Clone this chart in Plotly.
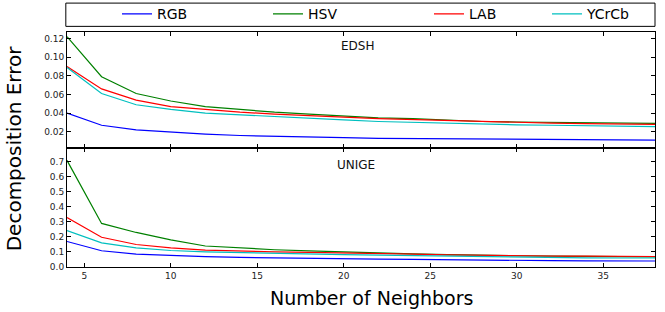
import plotly.graph_objects as go

neighbors = [4, 6, 8, 10, 12, 14, 16, 18, 20, 22, 24, 26, 28, 30, 32, 34, 36, 38]

edsh_rgb = [0.040, 0.027, 0.022, 0.0195, 0.0175, 0.016, 0.015, 0.0145, 0.0138, 0.013, 0.0127, 0.0123, 0.012, 0.0118, 0.0115, 0.0113, 0.011, 0.011]
edsh_hsv = [0.122, 0.079, 0.061, 0.053, 0.047, 0.044, 0.041, 0.039, 0.0366, 0.035, 0.034, 0.0325, 0.031, 0.0305, 0.030, 0.0298, 0.0294, 0.029]
edsh_lab = [0.090, 0.066, 0.054, 0.047, 0.044, 0.041, 0.039, 0.037, 0.0356, 0.034, 0.033, 0.032, 0.0305, 0.030, 0.0293, 0.0288, 0.0283, 0.028]
edsh_ycrcb = [0.089, 0.061, 0.049, 0.044, 0.040, 0.038, 0.036, 0.034, 0.0327, 0.031, 0.030, 0.029, 0.0283, 0.0275, 0.027, 0.0265, 0.026, 0.0255]

unige_rgb = [0.17, 0.108, 0.086, 0.075, 0.069, 0.064, 0.060, 0.057, 0.055, 0.053, 0.051, 0.048, 0.044, 0.043, 0.042, 0.041, 0.040, 0.040]
unige_hsv = [0.71, 0.29, 0.23, 0.181, 0.140, 0.125, 0.115, 0.107, 0.099, 0.092, 0.087, 0.082, 0.077, 0.075, 0.073, 0.071, 0.069, 0.068]
unige_lab = [0.33, 0.198, 0.150, 0.128, 0.113, 0.106, 0.101, 0.098, 0.095, 0.090, 0.086, 0.081, 0.077, 0.075, 0.073, 0.072, 0.071, 0.070]
unige_ycrcb = [0.242, 0.161, 0.128, 0.110, 0.101, 0.095, 0.090, 0.086, 0.082, 0.079, 0.076, 0.071, 0.066, 0.064, 0.062, 0.061, 0.060, 0.060]

series_names = ["RGB", "HSV", "LAB", "YCrCb"]
colors = ["#0000ff", "#008000", "#ff0000", "#00bfbf"]

x_ticks = [5, 10, 15, 20, 25, 30, 35]
top_ticks = [0.02, 0.04, 0.06, 0.08, 0.10, 0.12]
bot_ticks = [0.0, 0.1, 0.2, 0.3, 0.4, 0.5, 0.6, 0.7]

font = "DejaVu Sans, sans-serif"
legend_ids = ["legend", "legend2", "legend3", "legend4"]
legend_left_px = [117, 268, 429, 547]

fig = go.Figure()
edsh = [edsh_rgb, edsh_hsv, edsh_lab, edsh_ycrcb]
unige = [unige_rgb, unige_hsv, unige_lab, unige_ycrcb]
for name, col, ys, lg in zip(series_names, colors, edsh, legend_ids):
    fig.add_trace(go.Scatter(x=neighbors, y=ys, mode="lines", name=name,
                             line=dict(color=col, width=1.2), xaxis="x2", yaxis="y2",
                             showlegend=True, legend=lg))
for name, col, ys in zip(series_names, colors, unige):
    fig.add_trace(go.Scatter(x=neighbors, y=ys, mode="lines", name=name,
                             line=dict(color=col, width=1.2), xaxis="x", yaxis="y",
                             showlegend=False))

axis_common = dict(showline=True, linecolor="black", linewidth=1, mirror="ticks",
                   ticks="inside", ticklen=4, tickcolor="black", tickwidth=1,
                   showgrid=False, zeroline=False, automargin=False,
                   tickfont=dict(family=font, size=9, color="#222"))

split = 0.508
layout_legends = {}
for lg, px in zip(legend_ids, legend_left_px):
    layout_legends[lg] = dict(orientation="h", x=(px - 67) / 588, xanchor="left",
                              y=(266.7 - 14) / 235, yanchor="middle",
                              font=dict(family=font, size=14, color="black"),
                              bgcolor="rgba(0,0,0,0)", itemclick=False)

fig.update_layout(
    width=665, height=312,
    margin=dict(l=67, r=10, t=32, b=45, autoexpand=False),
    paper_bgcolor="white", plot_bgcolor="white",
    font=dict(family=font, color="black"),
    xaxis=dict(range=[4, 38], tickvals=x_ticks, domain=[0, 1], anchor="y", **axis_common),
    xaxis2=dict(range=[4, 38], tickvals=x_ticks, showticklabels=False, domain=[0, 1],
                anchor="y2", matches="x", **axis_common),
    yaxis=dict(range=[0, 0.795], tickvals=bot_ticks, tickformat=".1f",
               domain=[0, split], anchor="x", **axis_common),
    yaxis2=dict(range=[0.003, 0.127], tickvals=top_ticks, tickformat=".2f",
                domain=[split, 1], anchor="x2", **axis_common),
    showlegend=True,
    **layout_legends,
)

fig.add_shape(type="rect", xref="paper", yref="paper", x0=-0.002, x1=1.0,
              y0=1.024, y1=1.123, line=dict(color="black", width=1), layer="above")

fig.add_annotation(text="EDSH", xref="paper", yref="paper", x=(357 - 67) / 588,
                   y=(266.7 - 46) / 235, xanchor="center", yanchor="middle",
                   showarrow=False, font=dict(family=font, size=12, color="#111"))
fig.add_annotation(text="UNIGE", xref="paper", yref="paper", x=(356 - 67) / 588,
                   y=(266.7 - 165) / 235, xanchor="center", yanchor="middle",
                   showarrow=False, font=dict(family=font, size=12, color="#111"))
fig.add_annotation(text="Decomposition Error", xref="paper", yref="paper",
                   x=(14 - 67) / 588, y=(266.7 - 148) / 235, textangle=-90,
                   xanchor="center", yanchor="middle",
                   showarrow=False, font=dict(family=font, size=20, color="black"))
fig.add_annotation(text="Number of Neighbors", xref="paper", yref="paper",
                   x=(371 - 67) / 588, y=(266.7 - 298) / 235,
                   xanchor="center", yanchor="middle",
                   showarrow=False, font=dict(family=font, size=19, color="black"))

fig.write_html("out.html", config={"displayModeBar": False},
               post_script="document.body.style.margin='0';document.body.style.overflow='hidden';")
